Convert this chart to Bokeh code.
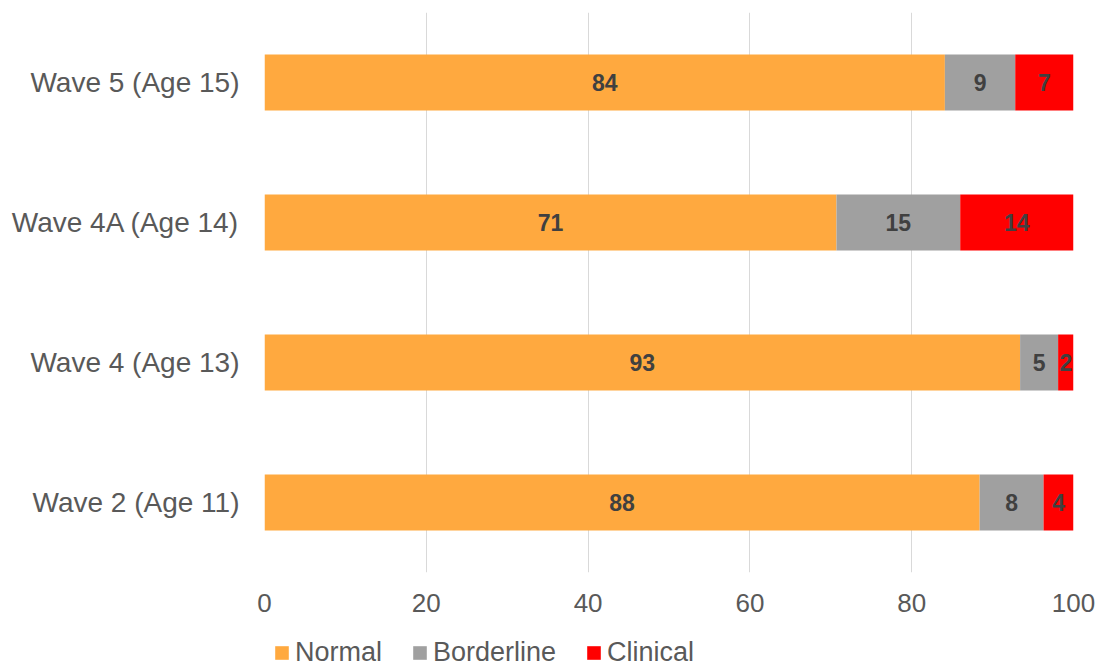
from bokeh.plotting import figure
from bokeh.models import ColumnDataSource, Legend, LegendItem, FixedTicker
from bokeh.core.properties import value
from bokeh.embed import file_html
from bokeh.resources import INLINE

waves = ["Wave 2 (Age 11)", "Wave 4 (Age 13)", "Wave 4A (Age 14)", "Wave 5 (Age 15)"]
normal = [88.4, 93.4, 70.7, 84.1]
borderline = [7.9, 4.7, 15.3, 8.7]
clinical = [3.7, 1.9, 14.0, 7.2]
series_names = ["Normal", "Borderline", "Clinical"]
colors = ["#FFA93F", "#A0A0A0", "#FF0000"]
x_ticks = [0, 20, 40, 60, 80, 100]

FONT = "Liberation Sans"

p = figure(y_range=waves, x_range=(0, 100), width=1101, height=672,
           frame_width=809, frame_height=560,
           width_policy="fixed", height_policy="fixed",
           output_backend="svg", toolbar_location=None,
           min_border_left=264, min_border_right=28, min_border_top=12, min_border_bottom=0)
p.outline_line_color = None
p.y_range.range_padding = 0

series = [normal, borderline, clinical]
renderers = []
left = [0.0] * len(waves)
label_x, label_y, label_t = [], [], []
for name, vals, col in zip(series_names, series, colors):
    right = [l + v for l, v in zip(left, vals)]
    src = ColumnDataSource(dict(y=waves, left=left, right=right))
    r = p.hbar(y="y", left="left", right="right", height=0.4, source=src,
               fill_color=col, line_color=None)
    renderers.append(r)
    for w, l, v in zip(waves, left, vals):
        label_x.append(l + v / 2)
        label_y.append(w)
        label_t.append(str(int(round(v))))
    left = right

lsrc = ColumnDataSource(dict(x=label_x, y=label_y, t=label_t))
p.text(x="x", y="y", text="t", source=lsrc, text_align="center", text_baseline="middle",
       text_font=value(FONT), text_font_size="23px", text_font_style="bold", text_color="#404040")

p.xaxis.ticker = FixedTicker(ticks=x_ticks)
p.xgrid.ticker = FixedTicker(ticks=x_ticks)
p.xgrid.grid_line_color = "#D9D9D9"
p.xgrid.grid_line_width = 1
p.ygrid.grid_line_color = None

for ax in (p.xaxis, p.yaxis):
    ax.axis_line_color = None
    ax.major_tick_line_color = None
    ax.minor_tick_line_color = None
    ax.major_tick_in = 0
    ax.major_tick_out = 0
    ax.major_label_text_font = FONT
    ax.major_label_text_color = "#595959"
p.xaxis.major_label_text_font_size = "26px"
p.xaxis.major_label_standoff = 21
p.yaxis.major_label_text_font_size = "28px"
p.yaxis.major_label_standoff = 25

legend = Legend(items=[LegendItem(label=n, renderers=[r]) for n, r in zip(series_names, renderers)],
                orientation="horizontal", location="top_left",
                glyph_width=17, glyph_height=17, label_standoff=5, spacing=29,
                padding=0, margin=9, border_line_color=None, background_fill_alpha=0,
                label_text_font=FONT, label_text_font_size="27px", label_text_color="#595959")
p.add_layout(legend, "below")

open("out.html", "w").write(file_html(p, INLINE))
